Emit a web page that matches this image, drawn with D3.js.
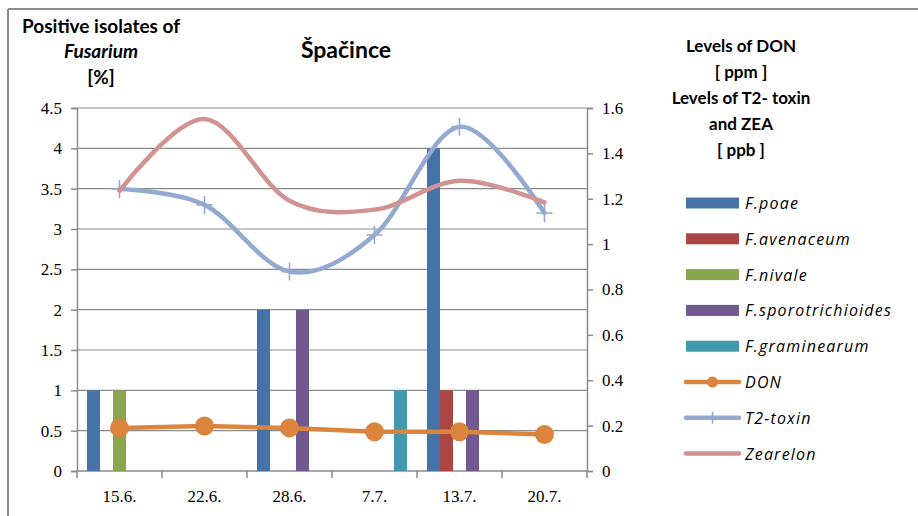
<!DOCTYPE html>
<html>
<head>
<meta charset="utf-8">
<script src="https://cdn.jsdelivr.net/npm/d3@7"></script>
<style>
  body { margin: 0; background: #fff; }
  svg { display: block; }
</style>
</head>
<body>
<div id="chart"></div>
<script>
// ---------- data ----------
var dates = ["15.6.", "22.6.", "28.6.", "7.7.", "13.7.", "20.7."];
var species = ["F.poae", "F.avenaceum", "F.nivale", "F.sporotrichioides", "F.graminearum"];
var poae = [1, 0, 2, 0, 4, 0];
var avenaceum = [0, 0, 0, 0, 1, 0];
var nivale = [1, 0, 0, 0, 0, 0];
var sporotrichioides = [0, 0, 2, 0, 1, 0];
var graminearum = [0, 0, 0, 1, 0, 0];
var don = [0.19, 0.198, 0.19, 0.173, 0.173, 0.161];
var t2toxin = [1.243, 1.173, 0.879, 1.04, 1.517, 1.137];
var zearelon = [1.235, 1.551, 1.191, 1.152, 1.279, 1.184];
var leftTicks = [0, 0.5, 1, 1.5, 2, 2.5, 3, 3.5, 4, 4.5];
var rightTicks = [0, 0.2, 0.4, 0.6, 0.8, 1, 1.2, 1.4, 1.6];

var barSeries = [poae, avenaceum, nivale, sporotrichioides, graminearum];
var barColors = ["#4572A7", "#AA4643", "#89A54E", "#71588F", "#4198AF"];

// ---------- svg ----------
var svgWidth = 918;
var svgHeight = 516;
var plot = { left: 77, right: 587, top: 108, bottom: 471 };

var svg = d3.select("#chart")
    .append("svg")
    .attr("width", svgWidth)
    .attr("height", svgHeight);

// outer frame (top and left edges visible)
svg.append("line").attr("x1", 8).attr("x2", svgWidth).attr("y1", 9).attr("y2", 9)
    .attr("stroke", "#8c8c8c").attr("stroke-width", 2);
svg.append("line").attr("x1", 8).attr("x2", 8).attr("y1", 9).attr("y2", svgHeight)
    .attr("stroke", "#8c8c8c").attr("stroke-width", 2);

// ---------- scales ----------
var x0 = d3.scaleBand()
    .domain(dates)
    .range([plot.left, plot.right]);
var x1 = d3.scaleBand()
    .domain(species)
    .range([10, x0.bandwidth() - 10]);
var yLeft = d3.scaleLinear().domain([0, 4.5]).range([plot.bottom, plot.top]);
var yRight = d3.scaleLinear().domain([0, 1.6]).range([plot.bottom, plot.top]);

var sans = "Lato, 'Open Sans', sans-serif";
var serif = "'Liberation Serif', 'DejaVu Serif'";

// gridlines
svg.append("g")
    .selectAll("line")
    .data(leftTicks.slice(1))
    .enter()
    .append("line")
    .attr("x1", plot.left).attr("x2", plot.right)
    .attr("y1", d => yLeft(d)).attr("y2", d => yLeft(d))
    .attr("stroke", "#8a8a8a").attr("stroke-width", 1.2);

// axes
var leftAxis = svg.append("g")
    .attr("transform", `translate(${plot.left},0)`)
    .call(d3.axisLeft(yLeft).tickValues(leftTicks).tickSize(6).tickPadding(9).tickFormat(d3.format("")));
var rightAxis = svg.append("g")
    .attr("transform", `translate(${plot.right},0)`)
    .call(d3.axisRight(yRight).tickValues(rightTicks).tickSize(6).tickPadding(9).tickFormat(d3.format("")));
var bottomAxis = svg.append("g")
    .attr("transform", `translate(0,${plot.bottom})`)
    .call(d3.axisBottom(x0).tickSize(0).tickPadding(19));

[leftAxis, rightAxis, bottomAxis].forEach(function(g) {
    g.attr("font-family", serif).attr("font-size", 17);
    g.select(".domain").attr("stroke", "#8a8a8a").attr("stroke-width", 1.5);
    g.selectAll(".tick line").attr("stroke", "#8a8a8a").attr("stroke-width", 1.5);
    g.selectAll("text").attr("fill", "#000").style("font-family", serif);
});
bottomAxis.select(".domain").attr("d", `M${plot.left},0H${plot.right}`);

// category boundary ticks on x axis
svg.append("g")
    .selectAll("line")
    .data(dates.concat(["end"]))
    .enter()
    .append("line")
    .attr("x1", (d, i) => plot.left + i * x0.bandwidth())
    .attr("x2", (d, i) => plot.left + i * x0.bandwidth())
    .attr("y1", plot.bottom).attr("y2", plot.bottom + 7)
    .attr("stroke", "#8a8a8a").attr("stroke-width", 1.5);

// ---------- bars ----------
barSeries.forEach(function(values, s) {
    svg.append("g")
        .selectAll("rect")
        .data(values.map((v, i) => ({ date: dates[i], value: v })).filter(d => d.value > 0))
        .enter()
        .append("rect")
        .attr("x", d => x0(d.date) + x1(species[s]))
        .attr("width", x1.bandwidth())
        .attr("y", d => yLeft(d.value))
        .attr("height", d => yLeft(0) - yLeft(d.value))
        .attr("fill", barColors[s]);
});

// ---------- lines ----------
var cx = (d, i) => x0(dates[i]) + x0.bandwidth() / 2;

var donLine = d3.line().x(cx).y(d => yRight(d));
svg.append("path")
    .attr("d", donLine(don))
    .attr("fill", "none").attr("stroke", "#DB843D").attr("stroke-width", 4.5);
svg.append("g")
    .selectAll("circle")
    .data(don)
    .enter()
    .append("circle")
    .attr("cx", cx)
    .attr("cy", d => yRight(d))
    .attr("r", 9.5)
    .attr("fill", "#DB843D");

var smoothLine = d3.line().x(cx).y(d => yRight(d)).curve(d3.curveCardinal.tension(0));

svg.append("path")
    .attr("d", smoothLine(t2toxin))
    .attr("fill", "none").attr("stroke", "#93A9CF").attr("stroke-width", 4.5)
    .attr("stroke-linecap", "round");
svg.append("g")
    .selectAll("path")
    .data(t2toxin)
    .enter()
    .append("path")
    .attr("d", (d, i) => `M${cx(d, i) - 8},${yRight(d)}H${cx(d, i) + 8}M${cx(d, i)},${yRight(d) - 9}V${yRight(d) + 9}`)
    .attr("stroke", "#93A9CF").attr("stroke-width", 1.6);

svg.append("path")
    .attr("d", smoothLine(zearelon))
    .attr("fill", "none").attr("stroke", "#D19392").attr("stroke-width", 4.5)
    .attr("stroke-linecap", "round");

// ---------- titles ----------
var leftTitle = svg.append("text")
    .attr("font-family", sans).attr("font-size", 19).attr("font-weight", "bold")
    .attr("text-anchor", "middle").attr("fill", "#000");
leftTitle.append("tspan").attr("x", 101).attr("y", 33).text("Positive isolates of");
leftTitle.append("tspan").attr("x", 101).attr("y", 58).attr("font-style", "italic").text("Fusarium");
leftTitle.append("tspan").attr("x", 101).attr("y", 84).text("[%]");

svg.append("text")
    .attr("x", 346).attr("y", 58)
    .attr("font-family", sans).attr("font-size", 23).attr("font-weight", "bold")
    .attr("text-anchor", "middle").attr("fill", "#000")
    .text("Špačince");

var rightTitle = svg.append("text")
    .attr("font-family", sans).attr("font-size", 17).attr("font-weight", "bold")
    .attr("text-anchor", "middle").attr("fill", "#000");
["Levels of DON", "[ ppm ]", "Levels of T2- toxin", "and ZEA", "[ ppb ]"].forEach(function(t, i) {
    rightTitle.append("tspan").attr("x", 741).attr("y", 52 + i * 26).text(t);
});

// ---------- legend ----------
var legendItems = species.map((s, i) => ({ name: s, type: "bar", color: barColors[i] }))
    .concat([
        { name: "DON", type: "don", color: "#DB843D" },
        { name: "T2-toxin", type: "t2", color: "#93A9CF" },
        { name: "Zearelon", type: "line", color: "#D19392" }
    ]);

var legend = svg.append("g")
    .selectAll("g")
    .data(legendItems)
    .enter()
    .append("g")
    .attr("transform", (d, i) => `translate(686,${203 + i * 35.8})`);

legend.filter(d => d.type === "bar")
    .append("rect")
    .attr("x", 0).attr("y", -5.5).attr("width", 53).attr("height", 11)
    .attr("fill", d => d.color);
legend.filter(d => d.type !== "bar")
    .append("line")
    .attr("x1", 0).attr("x2", 53).attr("y1", 0).attr("y2", 0)
    .attr("stroke", d => d.color).attr("stroke-width", 4.5).attr("stroke-linecap", "round");
legend.filter(d => d.type === "don")
    .append("circle")
    .attr("cx", 26.5).attr("cy", 0).attr("r", 5.5)
    .attr("fill", d => d.color);
legend.filter(d => d.type === "t2")
    .append("line")
    .attr("x1", 26.5).attr("x2", 26.5).attr("y1", -6).attr("y2", 6)
    .attr("stroke", d => d.color).attr("stroke-width", 1.5);
legend.append("text")
    .attr("x", 59).attr("y", 6)
    .attr("font-family", "'Open Sans', Lato, sans-serif").attr("font-size", 16)
    .attr("font-style", "italic").attr("letter-spacing", 1.2)
    .attr("fill", "#000")
    .text(d => d.name);
</script>
</body>
</html>
